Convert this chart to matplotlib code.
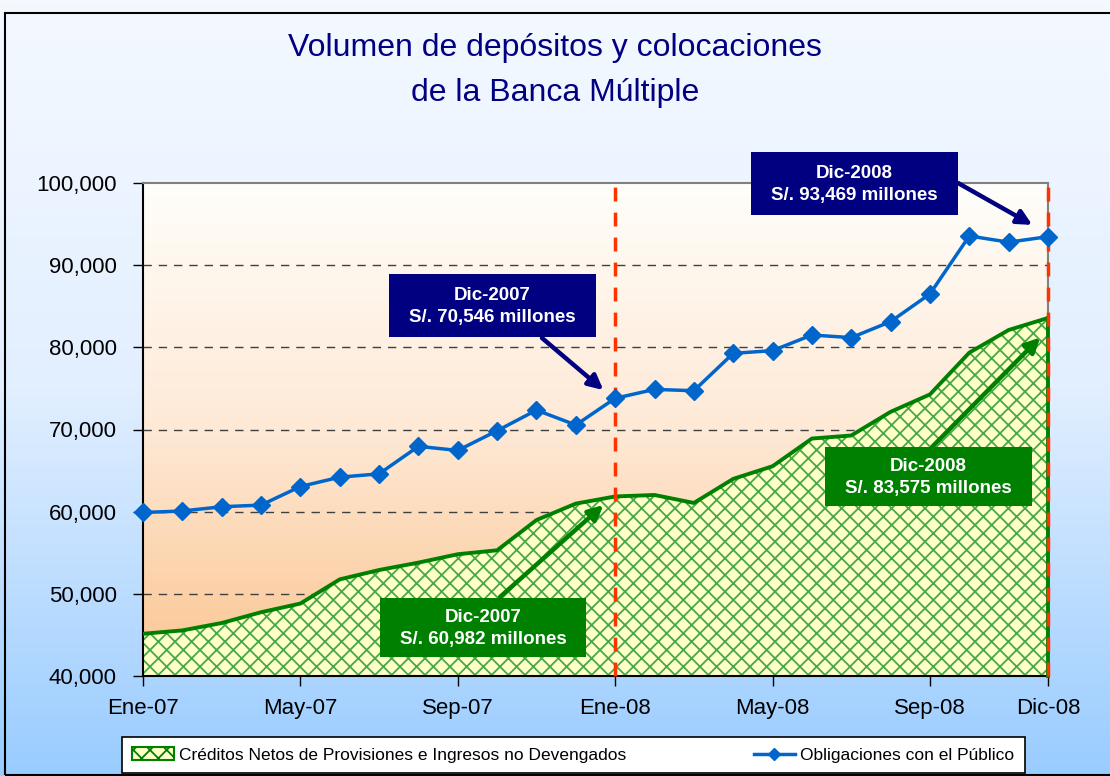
import numpy as np
import matplotlib
matplotlib.use("Agg")
import matplotlib.pyplot as plt
from matplotlib.colors import LinearSegmentedColormap
from matplotlib.patches import Rectangle, Patch
from matplotlib.lines import Line2D
from matplotlib.ticker import FuncFormatter

W, H = 1110, 776
narrow = ['Liberation Sans Narrow', 'Liberation Sans', 'DejaVu Sans']
arial = ['Liberation Sans', 'DejaVu Sans']

# monthly data, Ene-07 .. Dic-08 (millones de S/.)
meses = ['Ene-07', 'Feb-07', 'Mar-07', 'Abr-07', 'May-07', 'Jun-07', 'Jul-07', 'Ago-07',
         'Sep-07', 'Oct-07', 'Nov-07', 'Dic-07', 'Ene-08', 'Feb-08', 'Mar-08', 'Abr-08',
         'May-08', 'Jun-08', 'Jul-08', 'Ago-08', 'Sep-08', 'Oct-08', 'Nov-08', 'Dic-08']
obligaciones = [59900, 60080, 60600, 60800, 63060, 64200, 64600, 67950, 67450, 69850,
                72360, 70546, 73800, 74880, 74720, 79270, 79600, 81500, 81180, 83130,
                86500, 93550, 92800, 93469]
creditos = [45140, 45550, 46450, 47760, 48820, 51760, 52900, 53800, 54820, 55300,
            58980, 60982, 61850, 62030, 61060, 63990, 65530, 68900, 69270, 72150,
            74270, 79350, 82110, 83575]
tick_meses = ['Ene-07', 'May-07', 'Sep-07', 'Ene-08', 'May-08', 'Sep-08', 'Dic-08']
corte_meses = ['Ene-08', 'Dic-08']

navy = '#000080'
verde = '#008000'
azul = '#0066CC'

plt.rcParams['hatch.linewidth'] = 1.3


def px(x, y):
    return x / W, 1 - y / H


fig = plt.figure(figsize=(W / 100, H / 100), dpi=100)

# figure background gradient
bg = fig.add_axes([0, 0, 1, 1], zorder=-10)
bg_cmap = LinearSegmentedColormap.from_list('bg', ['#F4F9FF', '#E2EFFF', '#99CCFF'])
bg.imshow(np.linspace(0, 1, 256).reshape(-1, 1), aspect='auto', cmap=bg_cmap,
          extent=[0, 1, 0, 1], origin='upper')
bg.set_axis_off()
fig.add_artist(Rectangle(px(5, 775), 1120 / W, (775 - 13) / H, transform=fig.transFigure,
                         fill=False, edgecolor='black', linewidth=1.5))

l, t = px(143, 183)
r, b = px(1048, 676)
ax = fig.add_axes([l, b, r - l, t - b])
x = np.arange(len(meses))

# plot area gradient
pa_cmap = LinearSegmentedColormap.from_list('pa', ['#FFFEFA', '#FEE9D6', '#FBC590'])
ax.imshow(np.linspace(0, 1, 256).reshape(-1, 1), aspect='auto', cmap=pa_cmap,
          extent=[0, len(meses) - 1, 40000, 100000], origin='upper', zorder=0)

ax.set_xlim(0, len(meses) - 1)
ax.set_ylim(40000, 100000)

for v in [50000, 60000, 70000, 80000, 90000]:
    ax.axhline(v, color='#404040', lw=1, ls=(0, (6, 5)), zorder=1)

ax.fill_between(x, creditos, 40000, facecolor='#FFFFC8', edgecolor='#48A848',
                hatch='xx', linewidth=0, zorder=2)
ax.plot(x, creditos, color=verde, lw=2.8, zorder=3)
ax.plot([x[-1], x[-1]], [40000, creditos[-1]], color=verde, lw=2.8, zorder=3, clip_on=False)

for m in corte_meses:
    ax.axvline(meses.index(m), color='#FF3300', lw=2.5, ls=(0, (4, 3.2)), zorder=4,
               clip_on=False)

ax.plot(x, obligaciones, color=azul, lw=2.5, marker='D', markersize=9, zorder=5,
        clip_on=False)

ax.set_xticks([meses.index(m) for m in tick_meses])
ax.set_xticklabels(tick_meses)
ax.yaxis.set_major_formatter(FuncFormatter(lambda v, p: f'{int(v):,}'))
ax.set_yticks(np.arange(40000, 100001, 10000))
ax.tick_params(axis='both', direction='out', length=7, width=1, labelsize=16)
ax.tick_params(axis='x', pad=9)
ax.tick_params(axis='y', pad=12)
for lab in ax.get_xticklabels() + ax.get_yticklabels():
    lab.set_family(arial)
for s in ['top', 'right']:
    ax.spines[s].set_color('#808080')
    ax.spines[s].set_linewidth(1.5)
for s in ['left', 'bottom']:
    ax.spines[s].set_linewidth(1.5)

fig.text(0.5, px(0, 48)[1], 'Volumen de depósitos y colocaciones', ha='center', va='center',
         fontsize=23, color=navy, family=narrow)
fig.text(0.5, px(0, 93)[1], 'de la Banca Múltiple', ha='center', va='center',
         fontsize=23, color=navy, family=narrow)

# annotation boxes
anotaciones = [
    (389, 274, 207, 63, navy, 'Dic-2007\nS/. 70,546 millones', (542, 338), (11.7, 74800)),
    (751, 152, 207, 63, navy, 'Dic-2008\nS/. 93,469 millones', (958, 183), (22.6, 94900)),
    (380, 598, 206, 59, verde, 'Dic-2007\nS/. 60,982 millones', (500, 597), (11.7, 60800)),
    (825, 447, 207, 59, verde, 'Dic-2008\nS/. 83,575 millones', (932, 447), (22.8, 81200)),
]
for bx, by, bw, bh, col, txt, start, tip in anotaciones:
    fig.add_artist(Rectangle(px(bx, by + bh), bw / W, bh / H, transform=fig.transFigure,
                             facecolor=col, edgecolor='none', zorder=6))
    fig.text(*px(bx + bw / 2, by + bh / 2 + 1), txt, ha='center', va='center', color='white',
             fontsize=13.5, fontweight='bold', family=arial, linespacing=1.45, zorder=7)
    ax.annotate('', xy=tip, xycoords='data', xytext=px(*start), textcoords='figure fraction',
                arrowprops=dict(arrowstyle='-|>', color=col, lw=3.2, mutation_scale=22,
                                shrinkA=0, shrinkB=0), zorder=6, annotation_clip=False)

handles = [
    Patch(facecolor='#FFFFC8', edgecolor=verde, hatch='xx', linewidth=1.5),
    Line2D([], [], color=azul, lw=2.5, marker='D', markersize=6),
]
labels = ['Créditos Netos de Provisiones e Ingresos no Devengados', 'Obligaciones con el Público']
lx, ly = px(122, 773)
leg = fig.legend(handles, labels, loc='lower left', ncol=2, mode='expand',
                 bbox_to_anchor=(lx, ly, 903 / W, 40 / H), frameon=True, fancybox=False,
                 edgecolor='black', framealpha=1, prop={'family': narrow, 'size': 12.5},
                 handlelength=2.4, borderaxespad=0, borderpad=0.6, handletextpad=0.3)
leg.get_frame().set_linewidth(1.2)

fig.savefig('out.png', dpi=100)
